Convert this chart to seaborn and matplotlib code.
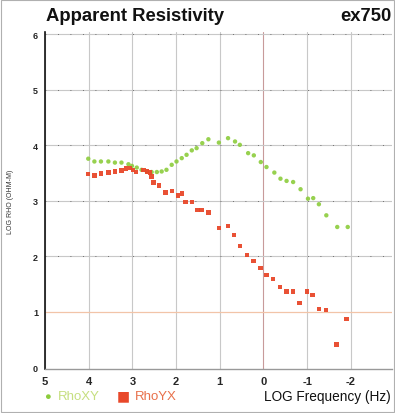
import numpy as np
import pandas as pd
import matplotlib
matplotlib.use("Agg")
import matplotlib.pyplot as plt
import seaborn as sns
from matplotlib.patches import Rectangle

# ---- data (log10 frequency, log10 apparent resistivity) ----
xy_logf = [4.01, 3.87, 3.72, 3.55, 3.40, 3.25, 3.09, 3.01, 2.90, 2.79, 2.67, 2.56,
           2.44, 2.33, 2.22, 2.10, 1.99, 1.87, 1.76, 1.64, 1.53, 1.40, 1.26, 1.02,
           0.81, 0.65, 0.54, 0.35, 0.22, 0.06, -0.07, -0.25, -0.39, -0.53, -0.68,
           -0.85, -1.02, -1.14, -1.27, -1.44, -1.69, -1.93]
xy_rho = [3.76, 3.71, 3.71, 3.71, 3.69, 3.69, 3.66, 3.63, 3.60, 3.56, 3.53, 3.52,
          3.52, 3.53, 3.56, 3.65, 3.71, 3.77, 3.83, 3.91, 3.95, 4.04, 4.11, 4.05,
          4.13, 4.07, 4.01, 3.86, 3.82, 3.70, 3.61, 3.51, 3.40, 3.36, 3.34,
          3.21, 3.04, 3.05, 2.94, 2.74, 2.53, 2.53]

yx_logf = [4.01, 3.87, 3.72, 3.55, 3.40, 3.25, 3.15, 3.06, 2.99, 2.92, 2.75, 2.67,
           2.60, 2.56, 2.52, 2.39, 2.24, 2.09, 1.96, 1.87, 1.78, 1.64, 1.51, 1.42,
           1.26, 1.02, 0.81, 0.67, 0.54, 0.37, 0.23, 0.07, -0.07, -0.22, -0.38,
           -0.53, -0.68, -0.83, -1.00, -1.12, -1.27, -1.43, -1.67, -1.90]
yx_rho = [3.48, 3.46, 3.49, 3.51, 3.53, 3.55, 3.58, 3.59, 3.56, 3.52, 3.56, 3.53,
          3.51, 3.44, 3.33, 3.28, 3.15, 3.18, 3.10, 3.13, 2.98, 2.98, 2.84, 2.84,
          2.79, 2.51, 2.55, 2.39, 2.19, 2.02, 1.92, 1.79, 1.67, 1.59, 1.45,
          1.37, 1.37, 1.16, 1.37, 1.30, 1.05, 1.03, 0.41, 0.87]

x_ticks = [5, 4, 3, 2, 1, 0, -1, -2]
x_tick_labels = ["5", "4", "3", "2", "1", "0", "-1", "-2"]
y_ticks = [0, 1, 2, 3, 4, 5, 6]

green = "#8ccc3c"
red = "#e8482a"

df_xy = pd.DataFrame({"logf": xy_logf, "rho": xy_rho})
df_yx = pd.DataFrame({"logf": yx_logf, "rho": yx_rho})

sns.set_style("white")
plt.rcParams["font.family"] = ["Liberation Sans", "DejaVu Sans"]

fig = plt.figure(figsize=(3.95, 4.14), dpi=100)
ax = fig.add_axes([0.114, 0.106, 0.878, 0.814])

# grid
for xv in x_ticks:
    ax.axvline(xv, color="#c89a9a" if xv == 0 else "#c8c8c8", lw=0.8, zorder=0)
for yv in y_ticks:
    if yv == 1:
        ax.axhline(yv, color="#f2c4a8", lw=0.9, zorder=0)
    elif 0 < yv:
        ax.axhline(yv, color="#c8c8c8", lw=0.8, zorder=0)
        ax.axhline(yv, color="#555555", lw=0.6, ls=(0, (1, 14)), zorder=0)

sns.scatterplot(data=df_xy, x="logf", y="rho", ax=ax, color=green, marker="o",
                s=10, edgecolor="none", alpha=0.9, zorder=3, legend=False)
sns.scatterplot(data=df_yx, x="logf", y="rho", ax=ax, color=red, marker="s",
                s=10, edgecolor="none", alpha=0.95, zorder=4, legend=False)

ax.set_xlim(5, -2.94)
ax.set_ylim(-0.03, 6.04)
ax.set_xticks(x_ticks)
ax.set_xticklabels(x_tick_labels, fontsize=8, fontweight="bold")
ax.set_yticks(y_ticks)
ax.set_yticklabels([str(v) for v in y_ticks], fontsize=6.5, fontweight="bold")

minor_y = [n + np.log10(k) for n in range(0, 6) for k in range(2, 10)]
ax.set_yticks(minor_y, minor=True)
minor_x = [n - np.log10(k) for n in range(5, -3, -1) for k in range(2, 10)]
ax.set_xticks([m for m in minor_x if m > -2.94], minor=True)
ax.tick_params(axis="y", which="major", length=3, width=0.8, pad=2, color="#333333")
ax.tick_params(axis="y", which="minor", length=2, width=0.5, color="#555555")
ax.tick_params(axis="x", which="major", length=3, width=0.8, pad=2, color="#333333")
ax.tick_params(axis="x", which="minor", length=1.5, width=0.5, color="#888888")

ax.set_xlabel("")
ax.set_ylabel("LOG RHO (OHM-M)", fontsize=5, color="#333333", labelpad=14)

for side in ["top", "right"]:
    ax.spines[side].set_visible(False)
ax.spines["left"].set_color("#111111")
ax.spines["left"].set_linewidth(1.2)
ax.spines["bottom"].set_color("#999999")
ax.spines["bottom"].set_linewidth(1.0)

# titles
fig.text(0.117, 0.961, "Apparent Resistivity", fontsize=13.3, fontweight="bold",
         ha="left", va="center", color="#111111")
fig.text(0.990, 0.961, "ex750", fontsize=13.3, fontweight="bold",
         ha="right", va="center", color="#111111")

# x label
fig.text(0.988, 0.042, "LOG Frequency (Hz)", fontsize=9.8, ha="right", va="center",
         color="#111111")

# legend
fig.text(0.119, 0.042, "\u25CF", fontsize=8, ha="center", va="center", color=green)
fig.text(0.147, 0.042, "RhoXY", fontsize=9.5, ha="left", va="center", color="#c6df80")
fig.text(0.311, 0.042, "\u25A0", fontsize=10, ha="center", va="center", color=red,
         family=["DejaVu Sans"])
fig.text(0.342, 0.042, "RhoYX", fontsize=9.5, ha="left", va="center", color="#e8704a")

# outer frame
fig.patches.append(Rectangle((0.003, 0.003), 0.994, 0.994, transform=fig.transFigure,
                             fill=False, edgecolor="#b0b0b0", lw=0.8))

fig.savefig("out.png", dpi=100)
